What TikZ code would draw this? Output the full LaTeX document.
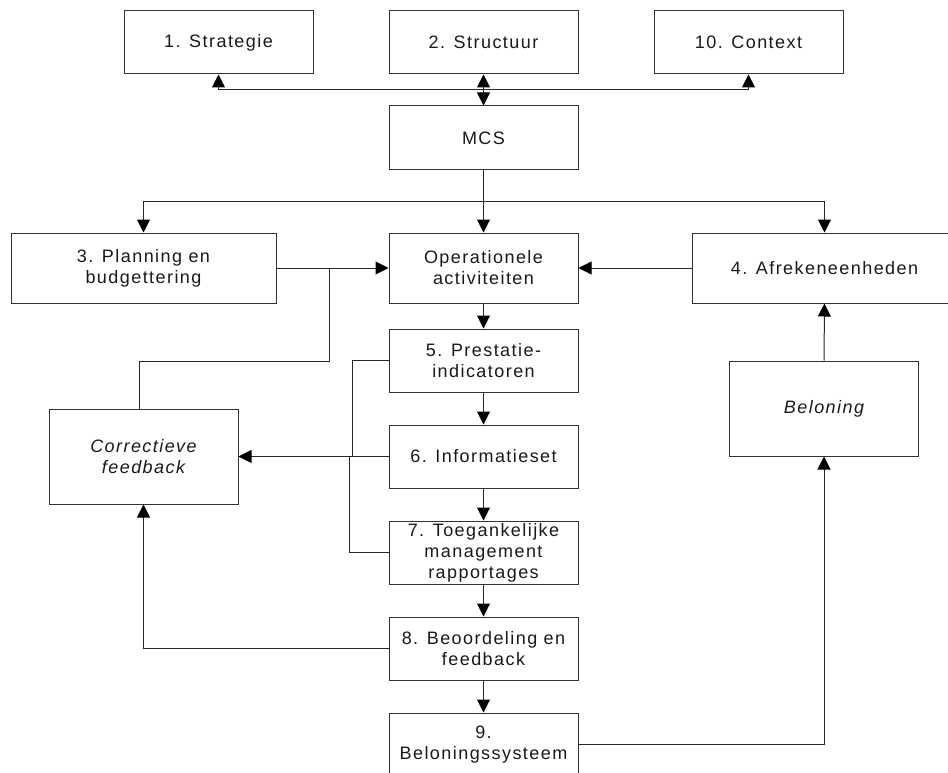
\documentclass[tikz,border=0pt]{standalone}
\usepackage{fontspec}
\setmainfont{Liberation Sans}[LetterSpace=8]
\usetikzlibrary{arrows.meta}
\begin{document}
\begin{tikzpicture}[x=1pt,y=-1pt,
  box/.style={draw=black!80, line width=1pt, align=center, inner sep=0pt,
    minimum width=189pt, minimum height=63pt, text=black!90,
    font=\fontsize{18}{21}\selectfont},
  widebox/.style={box, minimum width=265pt, minimum height=70pt},
  tallbox/.style={box, minimum height=95pt, font=\fontsize{18}{21}\selectfont\itshape},
  conn/.style={draw=black!85, line width=1pt},
  tip/.tip={Triangle[length=13pt,width=13pt,color=black]},
  arr/.style={conn, -tip},
  arrboth/.style={conn, tip-tip},
]
\clip (0,0) rectangle (948,773);
\useasboundingbox (0,0) rectangle (948,773);

% top row
\node[box] (strat)   at (218.5,42.5) {1. Strategie};
\node[box] (struct)  at (483.5,42.5) {2. Structuur};
\node[box] (context) at (748.5,42.5) {10. Context};
\node[box, minimum height=64pt] (mcs) at (483.5,138) {MCS};

% second row
\node[widebox] (plan)  at (143.5,268) {3. Planning en\\budgettering};
\node[box, minimum height=70pt] (oper) at (483.5,268) {Operationele\\activiteiten};
\node[widebox] (afrek) at (824.5,268) {4. Afrekeneenheden};

% central column
\node[box] (prest)  at (483.5,360.5) {5. Prestatie-\\indicatoren};
\node[box] (info)   at (483.5,456.5) {6. Informatieset};
\node[box] (toeg)   at (483.5,552.5) {7. Toegankelijke\\management\\rapportages};
\node[box] (beoor)  at (483.5,648.5) {8. Beoordeling en\\feedback};
\node[box] (belsys) at (483.5,744.5) {9.\\Beloningssysteem};

% side boxes
\node[tallbox] (corr)  at (143.5,456.5) {Correctieve\\feedback};
\node[tallbox] (belon) at (824,408.5) {Beloning};

% MCS links with the top row
\coordinate (hub) at (483.5,90);
\draw[arr] (hub) -| (strat.south);
\draw[arr] (hub) -| (context.south);
\draw[arrboth] (struct.south) -- (mcs.north);

% MCS to the second row
\coordinate (hubb) at (483.5,201);
\draw[arr] (mcs.south) -- (oper.north);
\draw[arr] (hubb) -| (plan.north);
\draw[arr] (hubb) -| (afrek.north);

\draw[arr] (plan.east) -- (oper.west);
\draw[arr] (afrek.west) -- (oper.east);

% corrective loop back to operations
\coordinate (jplan) at (329,268);
\draw[conn] ([xshift=-4.5pt]corr.north) |- (329,361) -- (jplan);

% central chain
\draw[arr] (oper.south) -- (prest.north);
\draw[arr] (prest.south) -- (info.north);
\draw[arr] (info.south) -- (toeg.north);
\draw[arr] (toeg.south) -- (beoor.north);
\draw[arr] (beoor.south) -- (belsys.north);

% feedback towards corrective box
\coordinate (jinfo) at (352,456.5);
\draw[conn] (prest.west) -| (jinfo);
\draw[conn] (toeg.west) -| (349,456.5);
\draw[arr] (info.west) -- (corr.east);
\draw[arr] (beoor.west) -| (corr.south);

% reward loop
\draw[arr] (belsys.east) -| (belon.south);
\draw[arr] (belon.north) -- (afrek.south);
\end{tikzpicture}
\end{document}
